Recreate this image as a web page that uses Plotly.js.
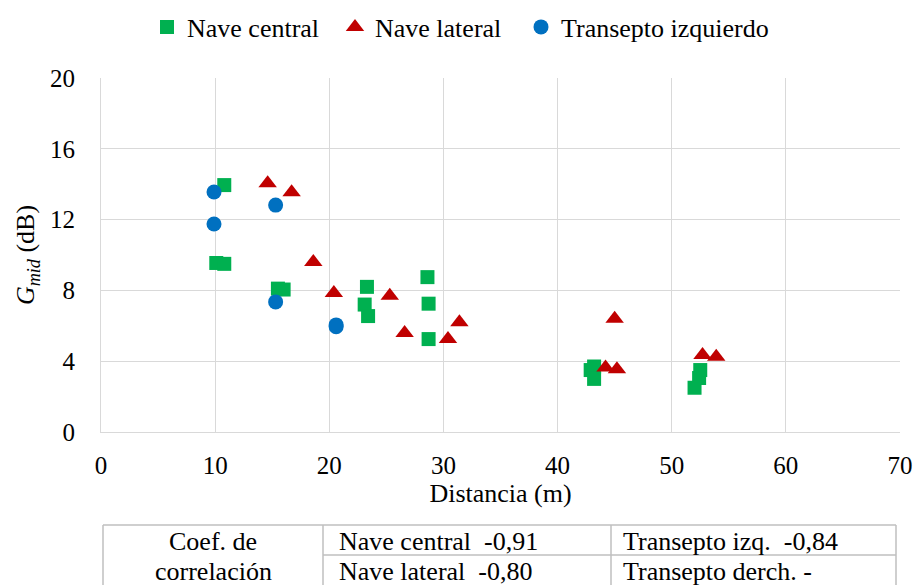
<!DOCTYPE html>
<html>
<head>
<meta charset="utf-8">
<script src="https://cdn.plot.ly/plotly-3.0.1.min.js"></script>
<style>
  html, body { margin: 0; padding: 0; background: #ffffff; }
  #chart { width: 917px; height: 585px; }
</style>
</head>
<body>
<div id="chart"></div>
<script>
// Distance from source (m) and G_mid (dB) per measurement zone
const centralDist = [10.8, 10.1, 10.8, 15.5, 16.0, 23.3, 23.1, 23.4, 28.6, 28.7, 28.7, 42.9, 43.2, 43.2, 52.5, 52.4, 52.0];
const centralG    = [13.95, 9.55, 9.5, 8.1, 8.05, 8.2, 7.2, 6.55, 8.75, 7.25, 5.25, 3.5, 3.7, 3.0, 3.5, 3.05, 2.5];

const lateralDist = [14.6, 16.7, 18.6, 20.4, 25.3, 26.6, 30.4, 31.4, 45.0, 44.2, 45.2, 52.7, 53.9];
const lateralG    = [14.05, 13.55, 9.6, 7.85, 7.7, 5.6, 5.25, 6.2, 6.4, 3.65, 3.55, 4.35, 4.25];

const transDist = [9.9, 9.9, 15.3, 15.3, 20.6, 20.6];
const transG    = [13.56, 11.75, 12.82, 7.35, 6.05, 5.95];

const seriesNames = ['Nave central', 'Nave lateral', 'Transepto izquierdo'];
const xTicks = [0, 10, 20, 30, 40, 50, 60, 70];
const yTicks = [0, 4, 8, 12, 16, 20];

// Correlation summary table beneath the chart
const tableHeader = ['Coef. de', 'correlación'];
const tableCol2 = ['Nave central  -0,91', 'Nave lateral  -0,80'];
const tableCol3 = ['Transepto izq.  -0,84', 'Transepto derch. -'];

const FONT = 'Liberation Serif';
const GRID = '#d9d9d9';
const TABLE_LINE = '#bfbfbf';

// one legend per series so the entries can be spaced along the top row
const traces = [
  { x: centralDist, y: centralG, name: seriesNames[0], type: 'scatter', mode: 'markers', legend: 'legend',
    marker: { symbol: 'square', size: 14, color: '#00b050' } },
  { x: lateralDist, y: lateralG, name: seriesNames[1], type: 'scatter', mode: 'markers', legend: 'legend2',
    marker: { symbol: 'triangle-up', size: 16, color: '#c00000' } },
  { x: transDist, y: transG, name: seriesNames[2], type: 'scatter', mode: 'markers', legend: 'legend3',
    marker: { symbol: 'circle', size: 15, color: '#0070c0' } }
];

// plot-area geometry in pixels, used to place the table and legends in paper units
const L = 101, R = 900, T = 78, B = 432;
const px = v => (v - L) / (R - L);
const py = v => (B - v) / (B - T);

const colX = [103, 323, 611, 896];
const rowTop = 525, rowMid = 555, rowBottom = 620;

const shapes = [
  // outer frame
  { type: 'line', x0: px(colX[0]), x1: px(colX[3]), y0: py(rowTop), y1: py(rowTop) },
  { type: 'line', x0: px(colX[0]), x1: px(colX[0]), y0: py(rowTop), y1: py(rowBottom) },
  { type: 'line', x0: px(colX[3]), x1: px(colX[3]), y0: py(rowTop), y1: py(rowBottom) },
  // column dividers
  { type: 'line', x0: px(colX[1]), x1: px(colX[1]), y0: py(rowTop), y1: py(rowBottom) },
  { type: 'line', x0: px(colX[2]), x1: px(colX[2]), y0: py(rowTop), y1: py(rowBottom) },
  // row divider across the value columns
  { type: 'line', x0: px(colX[1]), x1: px(colX[3]), y0: py(rowMid), y1: py(rowMid) }
].map(s => Object.assign(s, { xref: 'paper', yref: 'paper', line: { color: TABLE_LINE, width: 1.5 } }));

const rowCenters = [541, 571];
const annotations = [];
tableHeader.forEach((t, i) => annotations.push({
  text: t, x: px((colX[0] + colX[1]) / 2), y: py(rowCenters[i]), xanchor: 'center'
}));
tableCol2.forEach((t, i) => annotations.push({
  text: t, x: px(colX[1] + 14), y: py(rowCenters[i]), xanchor: 'left'
}));
tableCol3.forEach((t, i) => annotations.push({
  text: t, x: px(colX[2] + 10), y: py(rowCenters[i]), xanchor: 'left'
}));
annotations.forEach(a => Object.assign(a, {
  xref: 'paper', yref: 'paper', yanchor: 'middle', showarrow: false,
  font: { family: FONT, size: 26, color: '#000000' }
}));

const legendAt = left => ({
  orientation: 'h', x: px(left), xanchor: 'left', y: py(27), yanchor: 'middle',
  font: { family: FONT, size: 26, color: '#000000' },
  bgcolor: 'rgba(0,0,0,0)', itemclick: false
});

const layout = {
  width: 917, height: 585,
  margin: { l: L, r: 917 - R, t: T, b: 585 - B, pad: 0, autoexpand: false },
  paper_bgcolor: '#ffffff', plot_bgcolor: '#ffffff',
  font: { family: FONT, color: '#000000' },
  showlegend: true,
  legend: legendAt(147),
  legend2: legendAt(335),
  legend3: legendAt(521),
  xaxis: {
    range: [0, 70], tickvals: xTicks, ticktext: xTicks.map(String),
    showgrid: true, gridcolor: GRID, gridwidth: 1,
    showline: true, linecolor: GRID, linewidth: 1, zeroline: false, mirror: false,
    ticks: 'outside', ticklen: 11, tickcolor: 'rgba(0,0,0,0)',
    tickfont: { family: FONT, size: 25, color: '#000000' },
    title: { text: 'Distancia (m)', font: { family: FONT, size: 26, color: '#000000' }, standoff: 0 }
  },
  yaxis: {
    range: [0, 20], tickvals: yTicks, ticktext: yTicks.map(String),
    showgrid: true, gridcolor: GRID, gridwidth: 1,
    showline: true, linecolor: GRID, linewidth: 1, zeroline: false,
    ticks: 'outside', ticklen: 20, tickcolor: 'rgba(0,0,0,0)',
    tickfont: { family: FONT, size: 25, color: '#000000' },
    title: { text: '<i>G<sub>mid</sub></i> (dB)', font: { family: FONT, size: 26, color: '#000000' }, standoff: 7 }
  },
  shapes: shapes,
  annotations: annotations
};

Plotly.newPlot('chart', traces, layout, { displayModeBar: false, staticPlot: true });
</script>
</body>
</html>
